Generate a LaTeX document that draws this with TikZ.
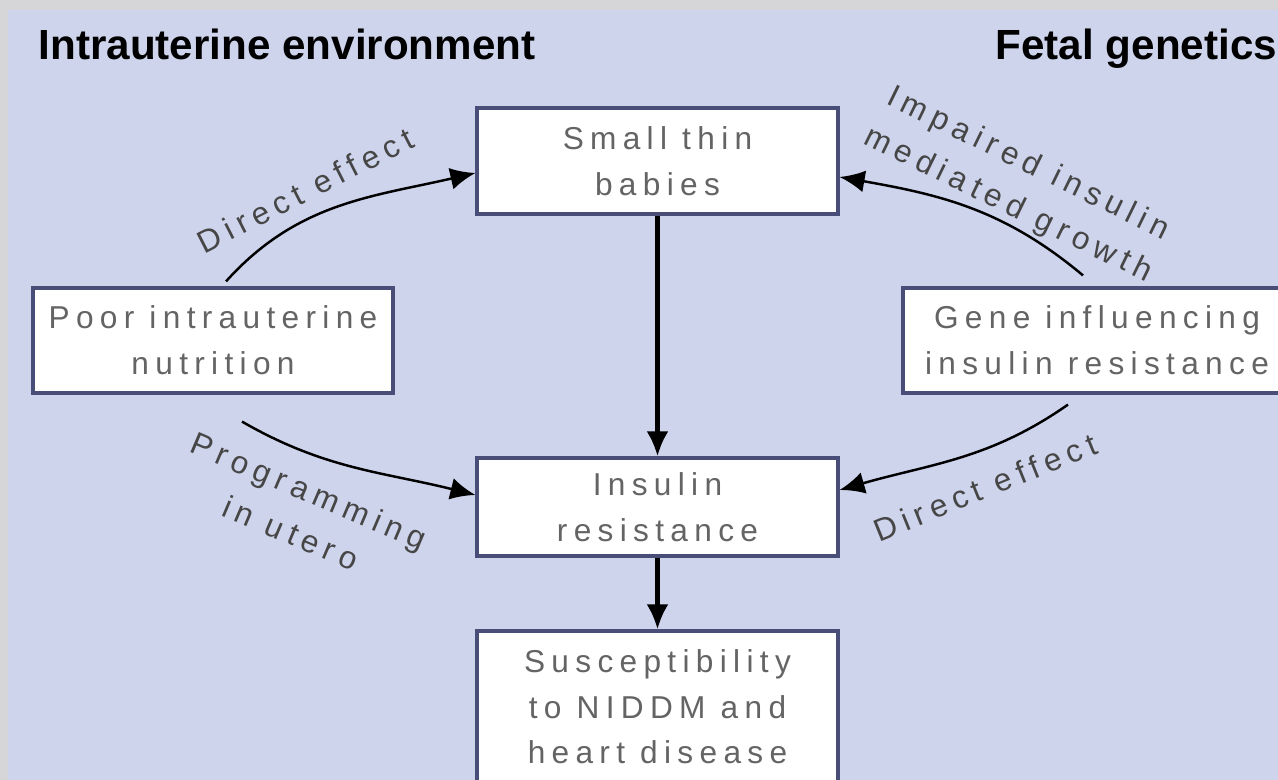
\documentclass[tikz,border=0pt]{standalone}
\usepackage{fontspec}
\setmainfont{Liberation Sans}
\newfontfamily\boxfont[LetterSpace=20]{Liberation Sans}
\usetikzlibrary{calc,arrows.meta}

\definecolor{bgblue}{RGB}{206,212,236}
\definecolor{framegrey}{RGB}{214,214,216}
\definecolor{boxline}{RGB}{72,78,120}
\definecolor{txtgrey}{RGB}{100,100,100}
\definecolor{lblgrey}{RGB}{70,70,70}

\begin{document}
\begin{tikzpicture}[
    box/.style={draw=boxline, line width=0.9pt, fill=white, inner sep=0pt,
      align=center, text=txtgrey, font=\boxfont\fontsize{9}{13}\selectfont},
    lbl/.style={align=center, text=lblgrey, font=\boxfont\fontsize{9}{13}\selectfont},
    ttl/.style={inner sep=0pt, font=\bfseries\fontsize{12}{14}\selectfont},
    flow/.style={-{Latex[length=0.25cm,width=0.22cm]}, line width=0.7pt}]

        \useasboundingbox (0,0) rectangle (12.78,-7.8);
        \clip (0,0) rectangle (12.78,-7.8);

        % tło
        \fill[framegrey] (0,0) rectangle (12.78,-7.8);
        \fill[bgblue] (0.08,-0.1) rectangle (12.78,-7.8);

        % nagłówki
        \node[ttl, anchor=base west] (env) at (0.38,-0.60) {Intrauterine environment};
        \node[ttl, anchor=base west] (gen) at (9.95,-0.60) {Fetal genetics};

        % prostokąty
        \node[box, minimum width=3.61cm, minimum height=1.06cm] (babies) at (6.575,-1.61) {Small thin\\babies};
        \node[box, minimum width=3.60cm, minimum height=1.05cm] (poor) at (2.13,-3.405) {Poor intrauterine\\nutrition};
        \node[box, minimum width=3.88cm, minimum height=1.05cm] (gene) at (10.97,-3.405) {Gene influencing\\insulin resistance};
        \node[box, minimum width=3.61cm, minimum height=0.98cm] (insres) at (6.575,-5.07) {Insulin\\resistance};
        \node[box, minimum width=3.61cm, minimum height=1.52cm] (risk) at (6.575,-7.07) {Susceptibility\\to NIDDM and\\heart disease};

        % strzałki pionowe
        \draw[flow, line width=1.3pt] (babies) -- (insres);
        \draw[flow, line width=1.3pt] (insres) -- (risk);

        % strzałki boczne
        \draw[flow] ($(poor.north)+(0.13,0.05)$) to[out=48,in=193] ($(babies.west)+(0,-0.12)$);
        \draw[flow] ($(gene.north)+(-0.14,0.11)$) to[out=140,in=-10] ($(babies.east)+(0,-0.16)$);
        \draw[flow] ($(poor.south)+(0.29,-0.27)$) to[out=-30,in=166] ($(insres.west)+(0,0.12)$);
        \draw[flow] ($(gene.south)+(-0.29,-0.1)$) to[out=215,in=16] ($(insres.east)+(0,0.17)$);

        % opisy
        \node[lbl, rotate=27] (d1) at (3.05,-1.90) {Direct effect};
        \node[lbl, rotate=-26] (imp) at (10.18,-1.85) {Impaired insulin\\mediated growth};
        \node[lbl, rotate=-23] (prog) at (3.00,-5.12) {Programming\\in utero};
        \node[lbl, rotate=22] (d2) at (9.85,-4.87) {Direct effect};
    \end{tikzpicture}
\end{document}
